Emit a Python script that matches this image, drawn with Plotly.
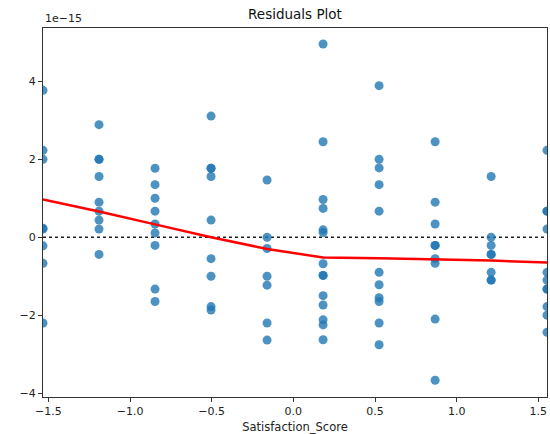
import plotly.graph_objects as go

SCALE = 1e-15
# Satisfaction_Score (standardized) positions
x_levels = [-1.533, -1.190, -0.847, -0.504, -0.161, 0.182, 0.525, 0.868, 1.211, 1.553]
# Residuals at each level, in units of 1e-15
resid_groups = [
    [3.77, 2.23, 2.0, 0.23, 0.21, -0.22, -0.67, -2.2],
    [2.89, 2.0, 2.0, 1.56, 0.9, 0.67, 0.44, 0.21, -0.44],
    [1.77, 1.35, 1.0, 0.67, 0.34, 0.11, -0.21, -1.33, -1.65],
    [3.11, 1.77, 1.77, 1.56, 0.44, -0.55, -1.0, -1.78, -1.87],
    [1.47, 0.0, -0.29, -1.0, -1.23, -2.2, -2.64],
    [4.96, 2.45, 0.97, 0.74, 0.19, 0.12, -0.68, -0.98, -0.98, -1.5, -1.74, -2.12, -2.25, -2.63],
    [3.89, 2.0, 1.78, 1.35, 0.67, -0.9, -1.22, -1.55, -1.65, -2.2, -2.76],
    [2.45, 0.9, 0.34, -0.21, -0.21, -0.55, -0.67, -2.1, -3.67],
    [1.56, 0.0, -0.21, -0.44, -0.44, -0.9, -1.1, -1.1],
    [2.23, 0.67, 0.67, 0.21, -0.9, -1.1, -1.33, -1.33, -1.78, -2.0, -2.44],
]
# Lowess fit at each level, in units of 1e-15
lowess_fit = [0.97, 0.66, 0.33, 0.0, -0.30, -0.52, -0.54, -0.57, -0.60, -0.65]

y_ticks = [-4, -2, 0, 2, 4]
x_ticks = [-1.5, -1.0, -0.5, 0.0, 0.5, 1.0, 1.5]

xs, ys = [], []
for xv, grp in zip(x_levels, resid_groups):
    for r in grp:
        xs.append(xv)
        ys.append(r * SCALE)

font = "DejaVu Sans"
fig = go.Figure()
fig.add_trace(go.Scatter(
    x=[x_levels[0], x_levels[-1]], y=[0, 0], mode="lines",
    line=dict(color="#222222", width=1.5, dash="dot"), hoverinfo="skip", showlegend=False))
fig.add_trace(go.Scatter(
    x=xs, y=ys, mode="markers",
    marker=dict(color="rgba(31,119,180,0.8)", size=9, line=dict(width=0)),
    showlegend=False, cliponaxis=True))
fig.add_trace(go.Scatter(
    x=x_levels, y=[v * SCALE for v in lowess_fit], mode="lines",
    line=dict(color="red", width=2.5), showlegend=False))

fig.update_layout(
    width=550, height=434,
    margin=dict(l=43, r=3, t=28, b=37),
    plot_bgcolor="white", paper_bgcolor="white",
    font=dict(family=font, size=11, color="#222222"),
    title=dict(text="Residuals Plot", x=0.5363,
               xanchor="center", y=1 - 14 / 434, yanchor="middle",
               font=dict(size=13.5, color="#111111")),
    xaxis=dict(range=[x_levels[0], x_levels[-1]], tickvals=x_ticks,
               ticktext=[("−" if t < 0 else "") + f"{abs(t):.1f}" for t in x_ticks],
               showgrid=False, zeroline=False, showline=True, mirror=True,
               linecolor="#333333", linewidth=1, ticks="outside", ticklen=4,
               tickcolor="#333333",
               title=dict(text="Satisfaction_Score", standoff=6, font=dict(size=11.5))),
    yaxis=dict(range=[-4.1 * SCALE, 5.37 * SCALE], tickvals=[t * SCALE for t in y_ticks],
               ticktext=[("−" if t < 0 else "") + str(abs(t)) for t in y_ticks],
               showgrid=False, zeroline=False, showline=True, mirror=True,
               linecolor="#333333", linewidth=1, ticks="outside", ticklen=4,
               tickcolor="#333333"),
    annotations=[dict(text="1e−15", xref="paper", yref="paper", x=0, y=1,
                      xanchor="left", yanchor="bottom", yshift=1, showarrow=False,
                      font=dict(size=11, color="#222222"))],
)
fig.write_html("out.html", config={"displayModeBar": False},
               post_script="document.body.style.margin='0';document.body.style.overflow='hidden';")
